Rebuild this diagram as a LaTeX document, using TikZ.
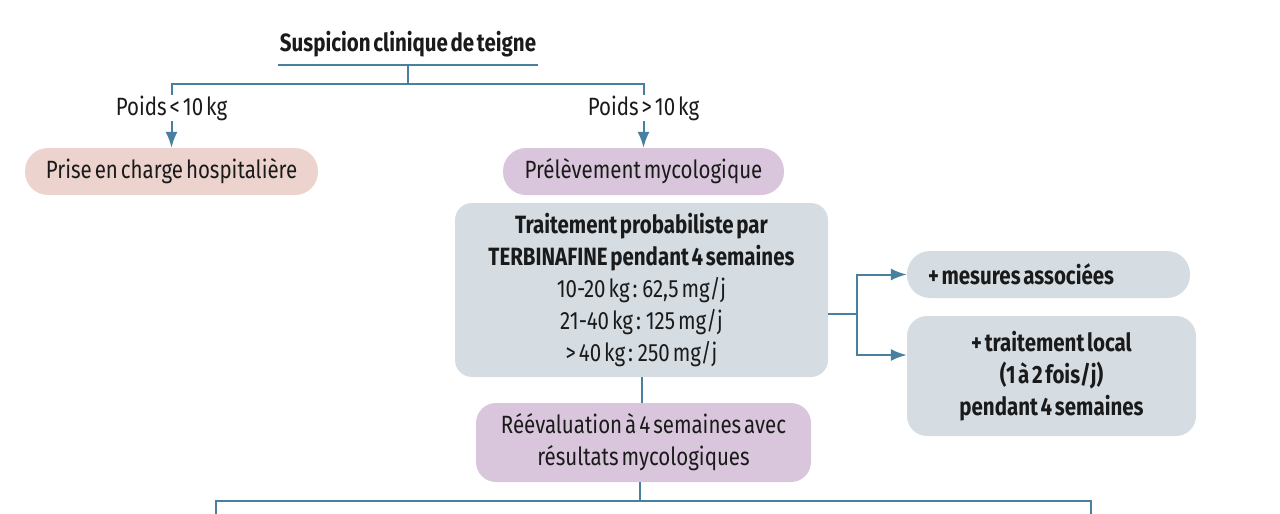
\documentclass[tikz,border=0pt]{standalone}
\usepackage{fontspec}
\setmainfont{Fira Sans}[FakeStretch=0.82,WordSpace=0.55]
\usetikzlibrary{arrows.meta,calc}
\definecolor{linec}{HTML}{4A809F}
\definecolor{pinkc}{HTML}{EDD3CD}
\definecolor{lilac}{HTML}{DAC6DC}
\definecolor{greyc}{HTML}{D5DDE3}
\definecolor{txt}{HTML}{1A1A1A}
\begin{document}
\begin{tikzpicture}[x=1pt,y=-1pt,
  every node/.style={text=txt,font=\fontsize{25}{32}\selectfont},
  bold/.style={font=\bfseries\fontsize{25}{32}\selectfont},
  conn/.style={draw=linec,line width=2pt},
  arr/.style={conn,-{Latex[length=16pt,width=12pt]}},
  pill/.style={rounded corners=23pt,minimum height=47pt,inner sep=0pt,align=center},
  panel/.style={rounded corners=17pt,inner sep=0pt,align=center},
  lab/.style={fill=white,inner sep=1pt}]
\useasboundingbox (0,0) rectangle (1280,514);
\clip (0,0) rectangle (1280,514);
% title
\node[bold] (title) at (408,44) {Suspicion clinique de teigne};
\coordinate (ul) at (278,65);
\coordinate (ur) at (538,65);
\coordinate (tc) at (408,65);
\coordinate (split) at (408,84);
\draw[conn] (ul) -- (ur);
% boxes
\node[pill,fill=pinkc,minimum width=293pt] (prise) at (171.5,171.5) {Prise en charge hospitalière};
\node[pill,fill=lilac,minimum width=281pt] (prel) at (643.5,171.5) {Prélèvement mycologique};
\node[panel,fill=greyc,minimum width=373pt,minimum height=174pt] (trait) at (641.5,290)
  {\bfseries Traitement probabiliste par\\ \bfseries TERBINAFINE pendant 4 semaines\\
   10-20 kg : 62,5 mg/j\\ 21-40 kg : 125 mg/j\\ > 40 kg : 250 mg/j};
\node[panel,rounded corners=20pt,fill=lilac,minimum width=335pt,minimum height=79pt] (reev) at (643.5,442.5)
  {Réévaluation à 4 semaines avec\\ résultats mycologiques};
\node[pill,bold,fill=greyc,minimum width=283pt,text width=241pt,align=flush left] (mes) at (1048.5,274.5) {+ mesures associées};
\node[panel,bold,rounded corners=20pt,fill=greyc,minimum width=289pt,minimum height=120pt] (loc) at (1051.5,376)
  {+ traitement local\\ (1 à 2 fois/j)\\ pendant 4 semaines};
% connectors
\draw[conn] (tc) -- (split);
\draw[arr] (split) -| (prise.north);
\draw[arr] (split) -| (prel.north);
\node[lab] (pl) at (171.5,108) {Poids < 10 kg};
\node[lab] (pg) at (643.5,108) {Poids > 10 kg};
\draw[conn] (trait.south) -- (trait.south |- reev.north);
\coordinate (rb) at (857,314);
\draw[conn] ([yshift=-24pt]trait.east) -- (rb);
\draw[arr] (rb) |- (mes.west);
\draw[arr] (rb) |- ([yshift=21pt]loc.west);
\coordinate (bsplit) at (640,501);
\coordinate (bl) at (216,530);
\coordinate (br) at (1091,530);
\draw[conn] (reev.south -| bsplit) -- (bsplit);
\draw[arr] (bsplit) -| (bl);
\draw[arr] (bsplit) -| (br);
\end{tikzpicture}
\end{document}
